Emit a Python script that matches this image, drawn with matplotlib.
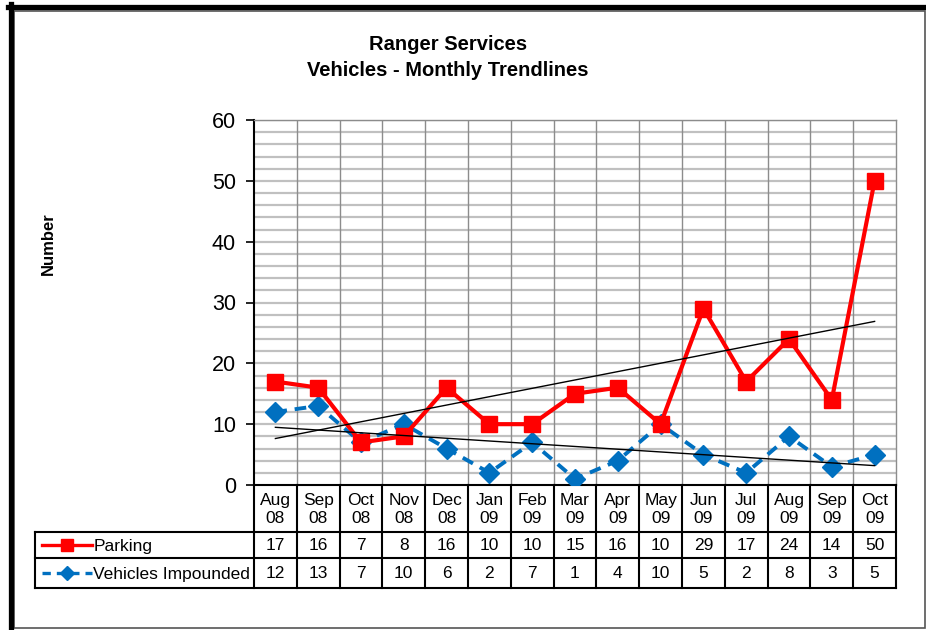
import numpy as np
import matplotlib
matplotlib.use("Agg")
import matplotlib.pyplot as plt
from matplotlib.lines import Line2D
from matplotlib.transforms import blended_transform_factory

plt.rcParams["font.family"] = ["Liberation Sans", "DejaVu Sans"]

months = ["Aug\n08", "Sep\n08", "Oct\n08", "Nov\n08", "Dec\n08", "Jan\n09", "Feb\n09", "Mar\n09",
          "Apr\n09", "May\n09", "Jun\n09", "Jul\n09", "Aug\n09", "Sep\n09", "Oct\n09"]
parking = [17, 16, 7, 8, 16, 10, 10, 15, 16, 10, 29, 17, 24, 14, 50]
impounded = [12, 13, 7, 10, 6, 2, 7, 1, 4, 10, 5, 2, 8, 3, 5]

RED = "#FF0000"
BLUE = "#0070C0"

W, H = 926, 630
fig = plt.figure(figsize=(W / 100, H / 100), dpi=100)


def fx(px):
    return px / W


def fy(py):
    return 1 - py / H


# plot area in pixels
L, R, T, B = 254, 896, 120, 485
ax = fig.add_axes([fx(L), fy(B), fx(R) - fx(L), fy(T) - fy(B)])

x = np.arange(len(months))
ax.set_xlim(-0.5, len(months) - 0.5)
ax.set_ylim(0, 60)

# grid: minor every 2, verticals at category boundaries
for yv in range(2, 61, 2):
    ax.axhline(yv, color="#c0c0c0", lw=1.6, zorder=0)
for xv in np.arange(0.5, len(months) - 0.5, 1):
    ax.axvline(xv, color="#8c8c8c", lw=1.0, zorder=0)

ax.plot(x, parking, color=RED, lw=3.0, marker="s", ms=12, mec=RED, mfc=RED, zorder=4)
ax.plot(x, impounded, color=BLUE, lw=2.8, ls=(0, (3, 2)), marker="D", ms=10, mec=BLUE, mfc=BLUE, zorder=3)

# linear trendlines
for series in (parking, impounded):
    k, b = np.polyfit(x, series, 1)
    ax.plot(x, k * x + b, color="black", lw=1.0, zorder=5)

ax.set_yticks(range(0, 61, 10))
ax.tick_params(axis="y", labelsize=15.5, length=6, width=1.2, direction="out", pad=7)
ax.set_xticks([])
for side in ("top", "right"):
    ax.spines[side].set_color("#8c8c8c")
    ax.spines[side].set_linewidth(1.0)
ax.spines["left"].set_linewidth(1.5)
ax.spines["bottom"].set_linewidth(1.5)

fig.text(fx(448), fy(45), "Ranger Services", ha="center", va="center", fontsize=14.5, fontweight="bold")
fig.text(fx(448), fy(70), "Vehicles - Monthly Trendlines", ha="center", va="center", fontsize=14.5,
         fontweight="bold")
fig.text(fx(48), fy(244), "Number", ha="center", va="center", rotation=90, fontsize=12, fontweight="bold")

# data table under the axis
tr = blended_transform_factory(ax.transData, fig.transFigure)
hdr_bot, row1_bot, row2_bot = 532, 558, 588


def hline(x0, x1, py, lw=1.5):
    fig.add_artist(Line2D([fx(x0), fx(x1)], [fy(py), fy(py)], color="black", lw=lw))


def vline(px, y0, y1, lw=1.5):
    fig.add_artist(Line2D([fx(px), fx(px)], [fy(y0), fy(y1)], color="black", lw=lw))


hline(L, R, hdr_bot)
hline(35, R, row1_bot)
hline(35, R, row2_bot)
hline(35, L, hdr_bot)
vline(35, hdr_bot, row2_bot)
vline(L, B, row2_bot)
for xv in np.arange(0.5, len(months) - 0.5, 1):
    fig.add_artist(Line2D([xv, xv], [fy(B), fy(row2_bot)], color="black", lw=1.5, transform=tr))
vline(R, B, row2_bot)

for i, m in enumerate(months):
    fig.text(i, fy((B + hdr_bot) / 2 + 1), m, transform=tr, ha="center", va="center",
             fontsize=12.5, linespacing=1.2)
    fig.text(i, fy((hdr_bot + row1_bot) / 2 + 1), str(parking[i]), transform=tr,
             ha="center", va="center", fontsize=12.5)
    fig.text(i, fy((row1_bot + row2_bot) / 2 + 1), str(impounded[i]), transform=tr,
             ha="center", va="center", fontsize=12.5)

# legend keys in the table
y1 = fy((hdr_bot + row1_bot) / 2)
y2 = fy((row1_bot + row2_bot) / 2)
fig.add_artist(Line2D([fx(42), fx(92)], [y1, y1], color=RED, lw=2.4))
fig.add_artist(Line2D([fx(67)], [y1], color=RED, marker="s", ms=8.5, lw=0))
fig.add_artist(Line2D([fx(42), fx(92)], [y2, y2], color=BLUE, lw=2.4, ls=(0, (2.5, 1.8))))
fig.add_artist(Line2D([fx(67)], [y2], color=BLUE, marker="D", ms=7, lw=0))
fig.text(fx(94), fy((hdr_bot + row1_bot) / 2 + 1), "Parking", ha="left", va="center", fontsize=12.5)
fig.text(fx(93), fy((row1_bot + row2_bot) / 2 + 1), "Vehicles Impounded", ha="left", va="center",
         fontsize=12.5)

# outer frame
fig.add_artist(Line2D([fx(8), fx(926)], [fy(6.5), fy(6.5)], color="black", lw=3.8))
fig.add_artist(Line2D([fx(10.5), fx(10.5)], [fy(4), fy(630)], color="black", lw=3.8))
fig.add_artist(plt.Rectangle((fx(14), fy(628)), fx(924.5) - fx(14), fy(11) - fy(628),
                             fill=False, ec="#555555", lw=1.2, transform=fig.transFigure))

fig.savefig("out.png", dpi=100)
